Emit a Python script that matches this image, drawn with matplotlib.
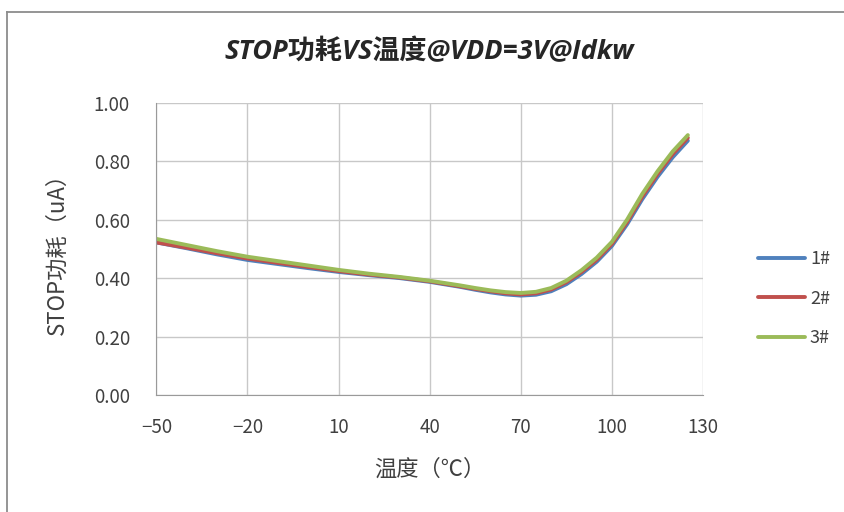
import matplotlib
matplotlib.use("Agg")
import matplotlib.pyplot as plt
from matplotlib.lines import Line2D

plt.rcParams['font.family'] = ['Noto Sans CJK SC', 'DejaVu Sans']

# temperature (C) and STOP current (uA)
temp = [-50, -40, -30, -20, -10, 0, 10, 20, 30, 40, 50, 55, 60, 65, 70, 75, 80, 85, 90, 95, 100, 105, 110, 115, 120, 125]
s1 = [0.522, 0.502, 0.481, 0.462, 0.448, 0.434, 0.421, 0.410, 0.400, 0.387, 0.370, 0.360, 0.351, 0.344, 0.340, 0.343, 0.355, 0.379, 0.414, 0.456, 0.510, 0.584, 0.670, 0.746, 0.813, 0.870]
s2 = [0.522, 0.504, 0.485, 0.467, 0.452, 0.438, 0.424, 0.412, 0.402, 0.389, 0.372, 0.363, 0.355, 0.348, 0.344, 0.348, 0.361, 0.386, 0.421, 0.463, 0.517, 0.592, 0.679, 0.756, 0.824, 0.880]
s3 = [0.534, 0.513, 0.492, 0.473, 0.458, 0.443, 0.428, 0.415, 0.404, 0.391, 0.375, 0.366, 0.358, 0.352, 0.349, 0.353, 0.366, 0.391, 0.427, 0.470, 0.524, 0.600, 0.688, 0.765, 0.833, 0.889]
labels = ['1#', '2#', '3#']
colors = ['#4F81BD', '#C0504D', '#9BBB59']

xticks = [-50, -20, 10, 40, 70, 100, 130]
yticks = [0, 0.2, 0.4, 0.6, 0.8, 1.0]

fig = plt.figure(figsize=(8.45, 5.12), dpi=100)
# chart frame (only left and top edges are in view)
fig.lines.append(Line2D([7/845, 7/845], [0, 1 - 12/512], transform=fig.transFigure, color='#8c8c8c', linewidth=1.3))
fig.lines.append(Line2D([7/845, 1], [1 - 12/512, 1 - 12/512], transform=fig.transFigure, color='#8c8c8c', linewidth=1.3))

ax = fig.add_axes([0.185, 0.2285, 0.647, 0.571])

for ys, lab, c in zip([s1, s2, s3], labels, colors):
    ax.plot(temp, ys, color=c, linewidth=2.8, label=lab, solid_capstyle='round', solid_joinstyle='round')

ax.set_xlim(-50, 130)
ax.set_ylim(0, 1.0)
ax.set_xticks(xticks)
ax.set_yticks(yticks)
ax.set_yticklabels(['%.2f' % v for v in yticks])
ax.grid(True, color='#c8c8c8', linewidth=1.0)
ax.set_axisbelow(True)
for s in ['top', 'right']:
    ax.spines[s].set_visible(False)
for s in ['left', 'bottom']:
    ax.spines[s].set_color('#9a9a9a')
ax.tick_params(length=0, labelsize=13.5, colors='#404040')
ax.tick_params(axis='x', pad=16)
ax.tick_params(axis='y', pad=19)

ax.set_title('STOP功耗VS温度@VDD=3V@Idkw', fontsize=19.5, fontweight='bold', style='italic',
             family=['Open Sans', 'Noto Sans CJK SC'], color='#262626', pad=31)
ax.set_xlabel('温度（℃）', fontsize=16, color='#404040', labelpad=14)
ax.set_ylabel('STOP功耗（uA）', fontsize=16, color='#404040', labelpad=18)

ax.legend(loc='center left', bbox_to_anchor=(1.07, 0.33), frameon=False, fontsize=13,
          labelcolor='#404040', handlelength=2.6, labelspacing=1.2, handletextpad=0.3)

fig.savefig('out.png', dpi=100)
